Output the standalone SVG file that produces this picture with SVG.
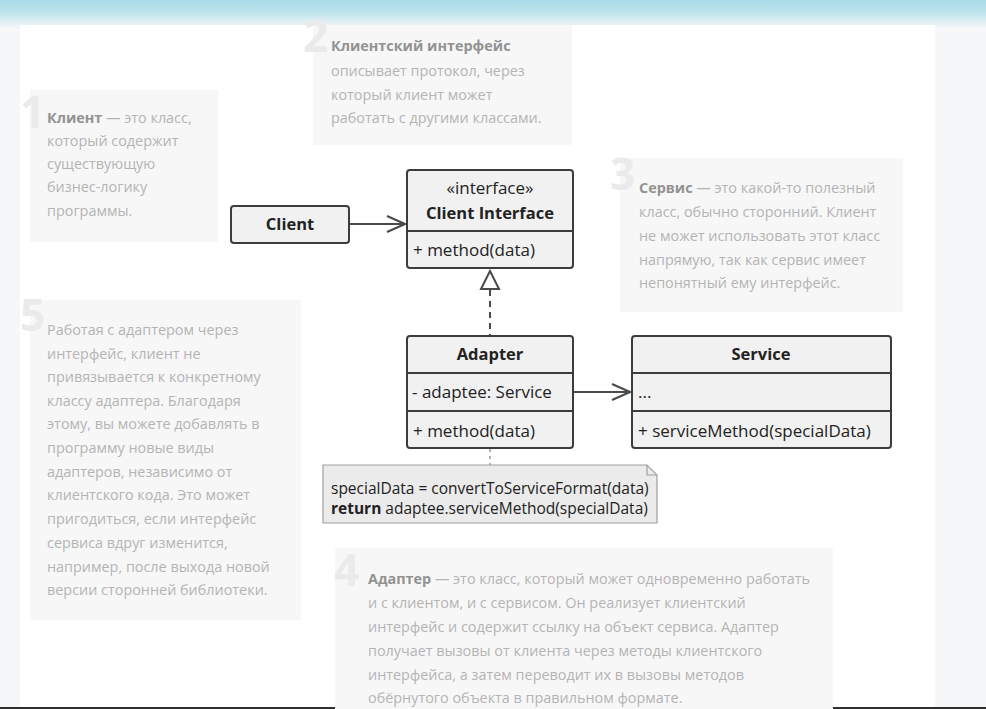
<svg xmlns="http://www.w3.org/2000/svg" width="986" height="709" viewBox="0 0 986 709">
  <defs>
    <linearGradient id="band" x1="0" y1="0" x2="0" y2="1">
      <stop offset="0" stop-color="#a6dbe5"/>
      <stop offset="0.45" stop-color="#bfe4ec"/>
      <stop offset="1" stop-color="#f5f6f8"/>
    </linearGradient>
    <marker id="open" viewBox="0 0 20 20" refX="19" refY="10" markerWidth="20" markerHeight="20" markerUnits="userSpaceOnUse" orient="auto">
      <path d="M1,2 L19,10 L1,18" fill="none" stroke="#4a4a4a" stroke-width="2"/>
    </marker>
    <style>
      .note { fill: #f7f7f7; }
      .num { font-family: "Open Sans", "Noto Sans", sans-serif; font-weight: 700; font-size: 44px; fill: #eaeaea; }
      .nt { font-family: "Open Sans", "Noto Sans", sans-serif; font-size: 14.4px; fill: #b4b4b4; }
      .nt .b { font-weight: 700; fill: #929292; }
      .box { fill: #f1f1f1; stroke: #3c3c3c; stroke-width: 2; }
      .div { stroke: #3c3c3c; stroke-width: 2; }
      .ut { font-family: "Open Sans", "Noto Sans", sans-serif; font-size: 17px; fill: #222; }
      .uc { text-anchor: middle; }
      .ub { font-weight: 700; font-size: 16.5px; }
      .edge { stroke: #4a4a4a; stroke-width: 2; fill: none; }
      .code { font-family: "Open Sans", "Noto Sans", sans-serif; font-size: 15.5px; fill: #222; }
    </style>
  </defs>

  <!-- page background -->
  <rect x="0" y="0" width="986" height="709" fill="#f6f7f9"/>
  <rect x="0" y="0" width="986" height="28" fill="url(#band)"/>
  <rect x="20" y="25" width="915" height="684" fill="#ffffff"/>
  <rect x="0" y="707" width="986" height="2" fill="#2e2e2e"/>

  <!-- note 1 -->
  <g id="note-client">
    <rect class="note" x="30" y="90" width="188" height="152"/>
    <text class="num" x="20" y="128">1</text>
    <text class="nt">
      <tspan x="47" y="123"><tspan class="b">Клиент</tspan> — это класс,</tspan>
      <tspan x="47" y="146">который содержит</tspan>
      <tspan x="47" y="169">существующую</tspan>
      <tspan x="47" y="192">бизнес-логику</tspan>
      <tspan x="47" y="216">программы.</tspan>
    </text>
  </g>

  <!-- note 2 -->
  <g id="note-interface">
    <rect class="note" x="313" y="25" width="259" height="120"/>
    <text class="num" x="303" y="52">2</text>
    <text class="nt">
      <tspan x="331" y="51" class="b">Клиентский интерфейс</tspan>
      <tspan x="331" y="76">описывает протокол, через</tspan>
      <tspan x="331" y="100">который клиент может</tspan>
      <tspan x="331" y="123">работать с другими классами.</tspan>
    </text>
  </g>

  <!-- note 3 -->
  <g id="note-service">
    <rect class="note" x="620" y="158" width="283" height="154"/>
    <text class="num" x="610" y="190">3</text>
    <text class="nt">
      <tspan x="639" y="193"><tspan class="b">Сервис</tspan> — это какой-то полезный</tspan>
      <tspan x="639" y="217">класс, обычно сторонний. Клиент</tspan>
      <tspan x="639" y="241">не может использовать этот класс</tspan>
      <tspan x="639" y="265">напрямую, так как сервис имеет</tspan>
      <tspan x="639" y="288">непонятный ему интерфейс.</tspan>
    </text>
  </g>

  <!-- note 5 -->
  <g id="note-benefit">
    <rect class="note" x="30" y="300" width="271" height="320"/>
    <text class="num" x="20" y="331">5</text>
    <text class="nt">
      <tspan x="47" y="335">Работая с адаптером через</tspan>
      <tspan x="47" y="359">интерфейс, клиент не</tspan>
      <tspan x="47" y="382">привязывается к конкретному</tspan>
      <tspan x="47" y="406">классу адаптера. Благодаря</tspan>
      <tspan x="47" y="429">этому, вы можете добавлять в</tspan>
      <tspan x="47" y="453">программу новые виды</tspan>
      <tspan x="47" y="477">адаптеров, независимо от</tspan>
      <tspan x="47" y="500">клиентского кода. Это может</tspan>
      <tspan x="47" y="524">пригодиться, если интерфейс</tspan>
      <tspan x="47" y="548">сервиса вдруг изменится,</tspan>
      <tspan x="47" y="572">например, после выхода новой</tspan>
      <tspan x="47" y="595">версии сторонней библиотеки.</tspan>
    </text>
  </g>

  <!-- note 4 -->
  <g id="note-adapter">
    <rect class="note" x="335" y="548" width="498" height="161"/>
    <text class="num" x="334" y="586">4</text>
    <text class="nt">
      <tspan x="368" y="584"><tspan class="b">Адаптер</tspan> — это класс, который может одновременно работать</tspan>
      <tspan x="368" y="608">и с клиентом, и с сервисом. Он реализует клиентский</tspan>
      <tspan x="368" y="632">интерфейс и содержит ссылку на объект сервиса. Адаптер</tspan>
      <tspan x="368" y="656">получает вызовы от клиента через методы клиентского</tspan>
      <tspan x="368" y="680">интерфейса, а затем переводит их в вызовы методов</tspan>
      <tspan x="368" y="703">обёрнутого объекта в правильном формате.</tspan>
    </text>
  </g>

  <!-- connectors -->
  <g id="connectors">
    <line class="edge" x1="349" y1="224" x2="405" y2="224" marker-end="url(#open)"/>
    <line class="edge" x1="490" y1="290" x2="490" y2="336" stroke-dasharray="6,5"/>
    <path d="M490,271 L499,289 L481,289 Z" fill="#ffffff" stroke="#4a4a4a" stroke-width="2"/>
    <line class="edge" x1="573" y1="392" x2="630" y2="392" marker-end="url(#open)"/>
    <line x1="490" y1="449" x2="490" y2="465" stroke="#999" stroke-width="1.5" stroke-dasharray="3,4"/>
  </g>

  <!-- Client -->
  <g id="client">
    <rect class="box" x="231" y="206" width="118" height="37" rx="3"/>
    <text class="ut uc ub" x="290" y="230">Client</text>
  </g>

  <!-- Client Interface -->
  <g id="client-interface">
    <rect class="box" x="407" y="170" width="166" height="98" rx="3"/>
    <line class="div" x1="407" y1="231" x2="573" y2="231"/>
    <text class="ut uc" x="490" y="194">«interface»</text>
    <text class="ut uc ub" x="490" y="219">Client Interface</text>
    <text class="ut" x="413" y="256">+ method(data)</text>
  </g>

  <!-- Adapter -->
  <g id="adapter">
    <rect class="box" x="407" y="336" width="166" height="112" rx="3"/>
    <line class="div" x1="407" y1="373" x2="573" y2="373"/>
    <line class="div" x1="407" y1="411" x2="573" y2="411"/>
    <text class="ut uc ub" x="490" y="360">Adapter</text>
    <text class="ut" x="412" y="398">- adaptee: Service</text>
    <text class="ut" x="413" y="437">+ method(data)</text>
  </g>

  <!-- Service -->
  <g id="service">
    <rect class="box" x="632" y="336" width="259" height="112" rx="3"/>
    <line class="div" x1="632" y1="373" x2="891" y2="373"/>
    <line class="div" x1="632" y1="411" x2="891" y2="411"/>
    <text class="ut uc ub" x="761" y="360">Service</text>
    <text class="ut" x="638" y="398">...</text>
    <text class="ut" x="638" y="437">+ serviceMethod(specialData)</text>
  </g>

  <!-- code note -->
  <g id="code-note">
    <path d="M323,465 L647,465 L657,475 L657,523 L323,523 Z" fill="#ebebeb" stroke="#a0a0a0" stroke-width="1.2"/>
    <path d="M647,465 L647,475 L657,475" fill="none" stroke="#a0a0a0" stroke-width="1.2"/>
    <text class="code">
      <tspan x="331" y="494">specialData = convertToServiceFormat(data)</tspan>
      <tspan x="331" y="514"><tspan font-weight="700">return</tspan> adaptee.serviceMethod(specialData)</tspan>
    </text>
  </g>
</svg>
